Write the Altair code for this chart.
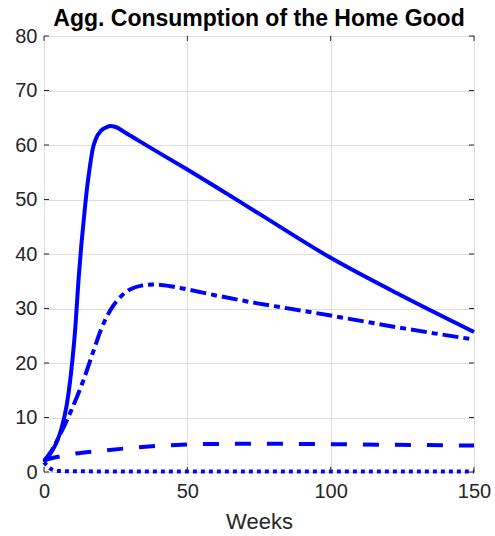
import altair as alt
import pandas as pd

# ---- data ----
t_solid = [0, 2, 4, 6, 8, 10, 11, 12, 13, 14, 15, 16, 17, 18, 20, 22, 23, 25, 28, 33, 40, 50, 60, 75, 100, 125, 150]
v_solid = [1.8, 3.2, 5.0, 7.8, 12.5, 21.0, 27.0, 35.0, 41.5, 47.0, 52.0, 56.0, 59.3, 61.0, 62.7, 63.3, 63.5, 63.3, 62.4, 60.8, 58.6, 55.5, 52.3, 47.4, 39.3, 32.3, 25.7]

t_dashdot = [0, 3, 6, 10, 14, 17, 20, 22, 24, 27, 30, 34, 38, 44, 50, 60, 75, 90, 100, 125, 150]
v_dashdot = [2.0, 4.2, 7.3, 11.9, 17.2, 21.8, 26.3, 28.6, 30.4, 32.3, 33.5, 34.2, 34.4, 34.1, 33.5, 32.4, 30.9, 29.6, 28.7, 26.4, 24.3]

t_dashed = [0, 5, 10, 20, 30, 40, 50, 60, 75, 90, 110, 130, 150]
v_dashed = [2.2, 2.8, 3.3, 3.9, 4.4, 4.8, 5.05, 5.15, 5.2, 5.15, 5.05, 4.95, 4.85]

t_dotted = [0, 1, 2, 3, 5, 10, 50, 100, 150]
v_dotted = [1.8, 1.2, 0.7, 0.4, 0.2, 0.12, 0.1, 0.08, 0.08]

x_ticks = [0, 50, 100, 150]
y_ticks = [0, 10, 20, 30, 40, 50, 60, 70, 80]

W, H = 430, 436
BLUE = "#0000ff"
AX = "#262626"
FONT = "Liberation Sans"

xs = alt.Scale(domain=[0, 150], nice=False)
ys = alt.Scale(domain=[0, 80], nice=False)
xaxis = alt.Axis(values=x_ticks, title="Weeks", grid=True, labelFlush=False)
yaxis = alt.Axis(values=y_ticks, title=None, grid=True, labelFlush=False)


def line_layer(t, v, dash):
    df = pd.DataFrame({"t": t, "v": v})
    kw = {}
    if dash:
        kw["strokeDash"] = dash
    return alt.Chart(df).mark_line(color=BLUE, strokeWidth=4, interpolate="monotone", **kw).encode(
        x=alt.X("t:Q", scale=xs, axis=xaxis),
        y=alt.Y("v:Q", scale=ys, axis=yaxis))


xt = pd.DataFrame({"t": x_ticks})
yt = pd.DataFrame({"v": y_ticks})

tick_b = alt.Chart(xt).mark_rule(color=AX, strokeWidth=1).encode(
    x=alt.X("t:Q", scale=xs, axis=xaxis), y=alt.value(H), y2=alt.value(H - 5))
tick_t = alt.Chart(xt).mark_rule(color=AX, strokeWidth=1).encode(
    x=alt.X("t:Q", scale=xs, axis=xaxis), y=alt.value(0), y2=alt.value(5))
tick_l = alt.Chart(yt).mark_rule(color=AX, strokeWidth=1).encode(
    y=alt.Y("v:Q", scale=ys, axis=yaxis), x=alt.value(0), x2=alt.value(5))
tick_r = alt.Chart(yt).mark_rule(color=AX, strokeWidth=1).encode(
    y=alt.Y("v:Q", scale=ys, axis=yaxis), x=alt.value(W - 5), x2=alt.value(W))

chart = alt.layer(
    line_layer(t_dotted, v_dotted, [4, 4]),
    line_layer(t_dashed, v_dashed, [16, 16]),
    line_layer(t_dashdot, v_dashdot, [16, 5, 6, 5]),
    line_layer(t_solid, v_solid, None),
    tick_b, tick_t, tick_l, tick_r,
).properties(
    width=W, height=H,
    title=alt.TitleParams("Agg. Consumption of the Home Good", font=FONT, fontSize=23,
                          fontWeight="bold", color="#000000", offset=5, dy=10, anchor="middle"),
    autosize=alt.AutoSizeParams(type="none"),
    padding={"left": 44, "top": 36, "right": 21, "bottom": 64},
).configure_view(
    stroke=AX, strokeWidth=1
).configure_axis(
    domain=False, ticks=False, labelFont=FONT, labelFontSize=20, labelColor=AX,
    titleFont=FONT, titleFontSize=22, titleFontWeight="normal", titleColor=AX,
    gridColor="#dedede", gridWidth=1, labelPadding=9, titlePadding=10,
).configure_axisY(labelPadding=7)

chart.save("out.html", embed_options={"renderer": "svg", "actions": False})
